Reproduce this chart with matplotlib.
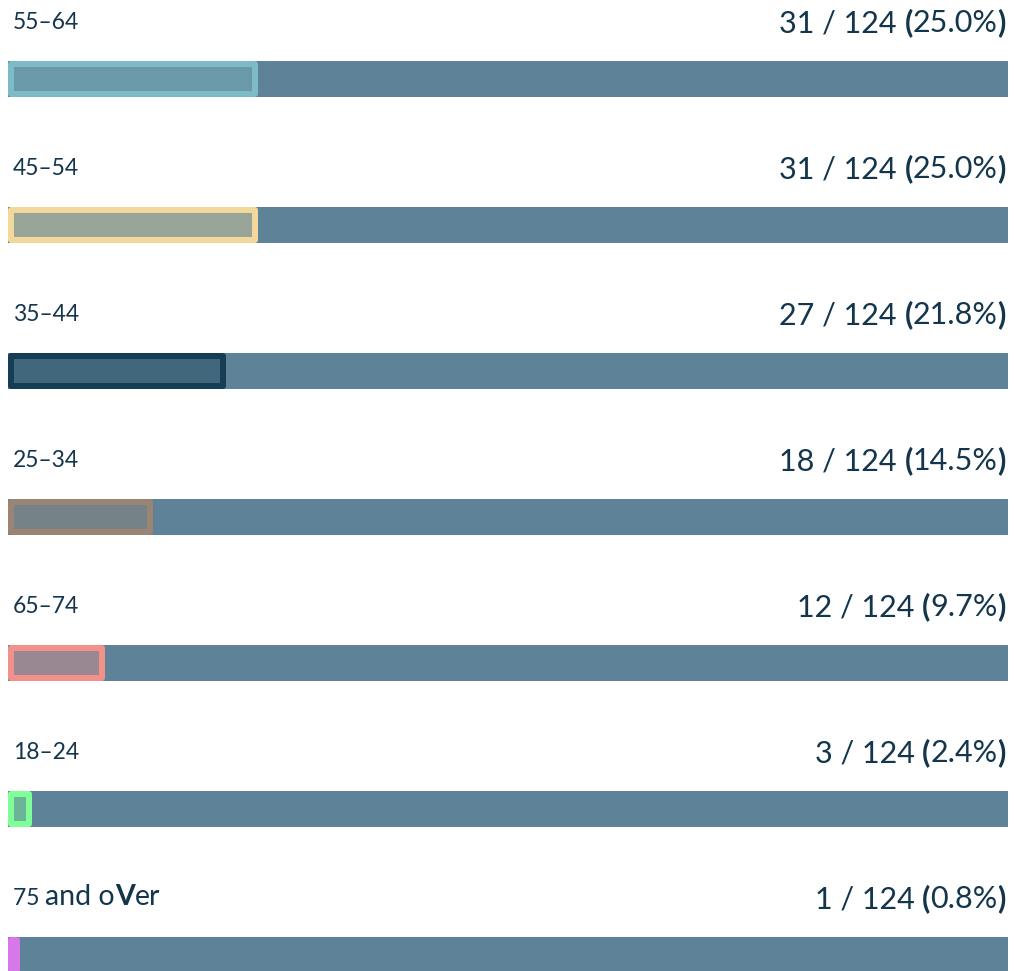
import matplotlib
matplotlib.use("Agg")
import matplotlib.pyplot as plt
import matplotlib.transforms as mtransforms

# data (top to bottom)
groups = ["55–64", "45–54", "35–44", "25–34", "65–74", "18–24", "75 and over"]
counts = [31, 31, 27, 18, 12, 3, 1]
total = 124
edge_colors = ["#7dbcc4", "#f2d89a", "#163d56", "#9a8474", "#f2908a", "#80ff99", "#d878e8"]

TRACK = "#5e8398"
TEXT = "#14364c"
FONT = "Lato"

W, H, DPI = 1014, 971, 100
fig = plt.figure(figsize=(W / DPI, H / DPI), dpi=DPI)
fig.patch.set_facecolor("white")

# axes: x 0..1 maps to pixels 8..1008, row i centred at 79 + 146*i px
pitch = 146.0
ax = fig.add_axes([8 / W, 0, 1000 / W, 1])
ax.set_xlim(0, 1)
ax.set_ylim((H - 79) / pitch, -79 / pitch)
ax.axis("off")

rows = list(range(len(groups)))
track_h = 36 / pitch
lw_px = 6
inset_x = (lw_px / 2) / 1000
inset_h = (36 - lw_px) / pitch
min_w = 12 / 1000  # smallest bar drawn, in axis fraction

# full-width tracks
ax.barh(rows, [1.0] * len(rows), height=track_h, color=TRACK, linewidth=0)

# proportion bars: translucent fill + opaque rounded outline drawn inside
fracs = [c / total for c in counts]
for i, (f, col) in enumerate(zip(fracs, edge_colors)):
    rgb = matplotlib.colors.to_rgb(col)
    w = max(f, min_w) - 2 * inset_x
    bars = ax.barh(i, w, left=inset_x, height=inset_h,
                   facecolor=(*rgb, 0.4), edgecolor=col, linewidth=lw_px * 0.72)
    for b in bars:
        b.set_joinstyle("round")

fig.canvas.draw()
renderer = fig.canvas.get_renderer()


def segments(x, y, parts, ha):
    """Draw text pieces one after another; parts = [(text, size, weight)]."""
    seq = parts[::-1] if ha == "right" else parts
    off = 0.0
    for txt, size, weight in seq:
        dx = -off if ha == "right" else off
        tr = mtransforms.offset_copy(ax.transData, fig=fig, x=dx, y=0, units="dots")
        t = ax.text(x, y, txt, transform=tr, ha=ha, va="baseline", fontsize=size,
                    fontweight=weight, color=TEXT, family=FONT)
        off += t.get_window_extent(renderer).width


label_size = 16.5
value_size = 22
for i, (g, c, f) in enumerate(zip(groups, counts, fracs)):
    y_lab = i - 50 / pitch
    y_val = i - 47 / pitch
    if g == "75 and over":
        segments(0.005, y_lab, [("75 ", label_size, "normal"),
                                ("and o", 20.5, "normal"),
                                ("V", 20.5, "bold"),
                                ("er", 20.5, "normal")], "left")
    else:
        segments(0.005, y_lab, [(g, label_size, "normal")], "left")
    segments(0.998, y_val, [(f"{c} / {total} ", value_size, "normal"),
                            ("(", value_size, "bold"),
                            (f"{f * 100:.1f}%", value_size, "normal"),
                            (")", value_size, "bold")], "right")

fig.savefig("out.png", dpi=DPI, facecolor="white")
